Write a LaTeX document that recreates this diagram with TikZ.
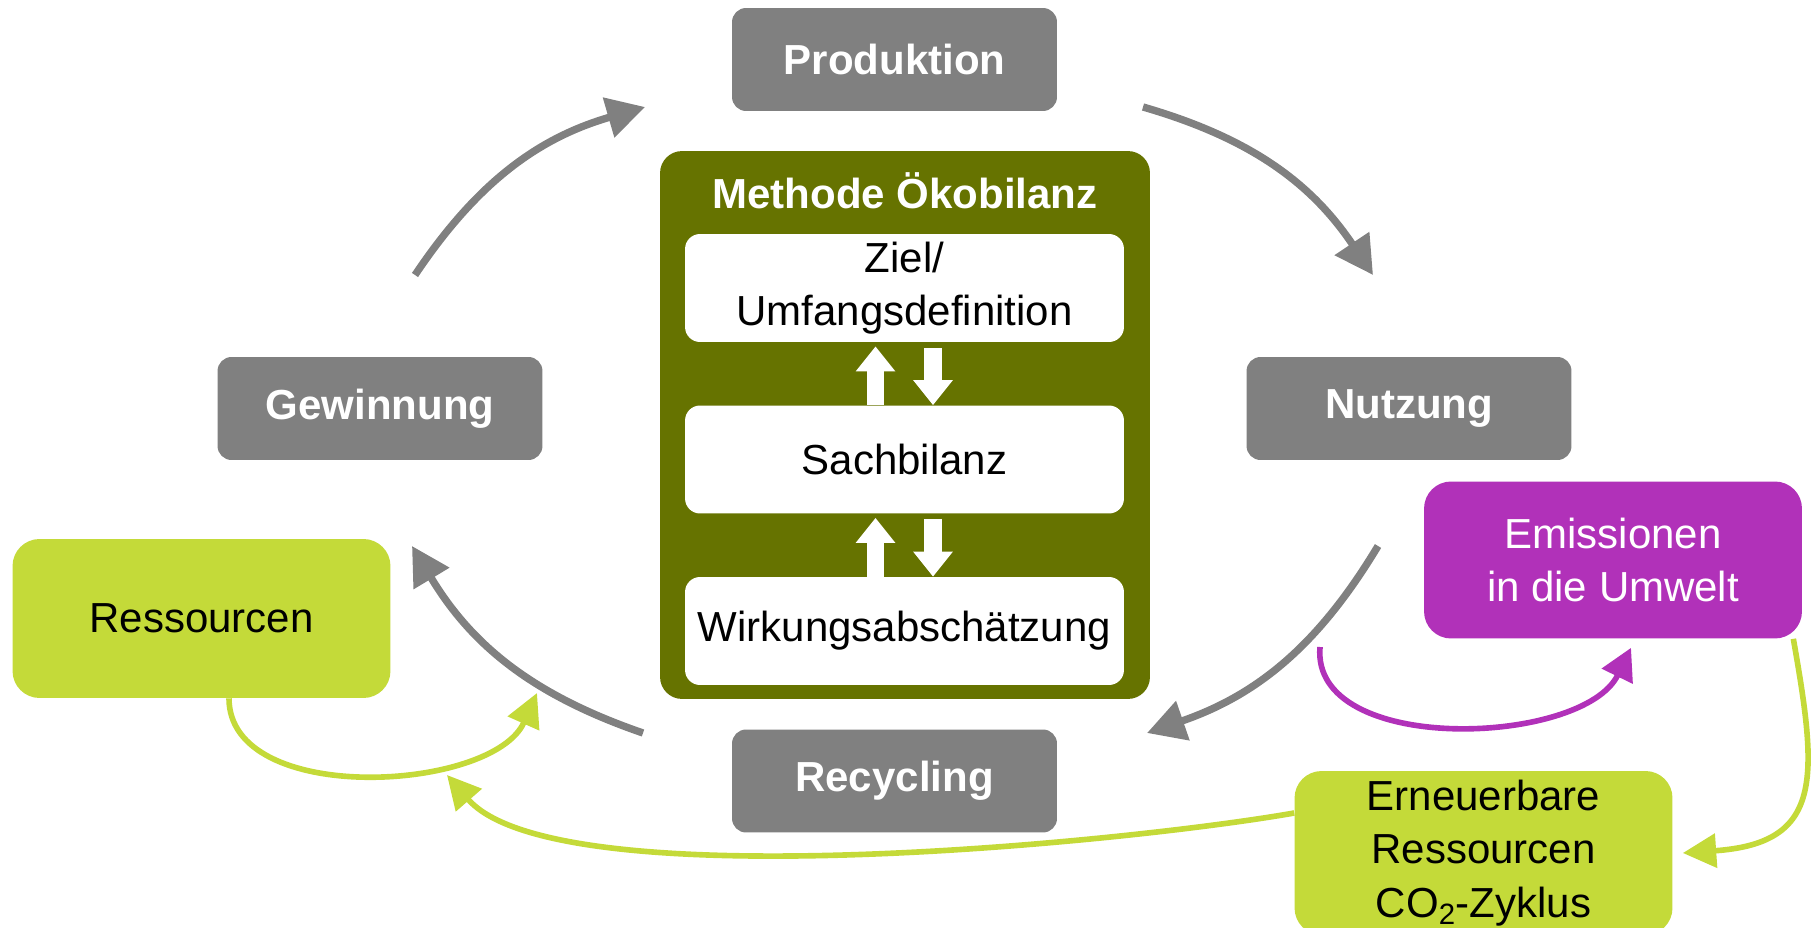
\documentclass[tikz,border=0pt]{standalone}
\usepackage{xcolor}
\usepackage{fontspec}
\setmainfont{Liberation Sans}
\usetikzlibrary{arrows.meta}

\definecolor{phasegray}{HTML}{808080}
\definecolor{methodgreen}{HTML}{667300}
\definecolor{resgreen}{HTML}{C4DA39}
\definecolor{emispurple}{HTML}{B131B9}

\newcommand{\bigfont}{\fontsize{23.9}{30.5}\selectfont}

\tikzset{
  phase/.style={fill=phasegray, rounded corners=0.28cm, minimum width=6.5cm, minimum height=2.06cm, text=white, font=\bigfont\bfseries},
  methodbox/.style={fill=methodgreen, rounded corners=0.44cm, minimum width=9.8cm, minimum height=10.96cm},
  stepbox/.style={fill=white, rounded corners=0.3cm, minimum width=8.78cm, minimum height=2.16cm, align=center, font=\bigfont},
  resbox/.style={fill=resgreen, rounded corners=0.54cm, minimum width=7.56cm, minimum height=3.18cm, align=center, font=\bigfont},
  emisbox/.style={fill=emispurple, rounded corners=0.54cm, minimum width=7.56cm, minimum height=3.14cm, align=center, text=white, font=\bigfont},
  loopflow/.style={draw=phasegray, line width=4.2pt, -{Triangle[length=21.6pt,width=22.8pt]}},
  greenflow/.style={draw=resgreen, line width=3.2pt, -{Triangle[length=19pt,width=19pt]}},
  purpleflow/.style={draw=emispurple, line width=3.2pt, -{Triangle[length=18pt,width=19pt]}},
  exchange/.style={draw=white, line width=10.2pt, -{Triangle[length=14.2pt,width=21.6pt]}}
}

\begin{document}
\begin{tikzpicture}[x=0.02cm, y=-0.02cm]
\useasboundingbox (0,0) rectangle (1817,928);

\node[phase] (prod) at (894.5,59.5) {Produktion};
\node[phase] (gew) at (380,408.5) {Gewinnung};
\node[phase] (nutz) at (1409,408.5) {Nutzung};
\node[phase] (rec) at (894.5,781) {Recycling};

\node[methodbox] (method) at (905,425) {};
\node[text=white, font=\bigfont\bfseries] (title) at (905,191) {Methode Ökobilanz};
\node[stepbox] (ziel) at (904.5,288) {Ziel/\\Umfangsdefinition};
\node[stepbox] (sach) at (904.5,459.5) {Sachbilanz};
\node[stepbox] (wirk) at (904.5,631) {Wirkungsabschätzung};

\draw[exchange, shorten >=2.3pt] ([xshift=-0.58cm]sach.north) -- ([xshift=-0.58cm]ziel.south);
\draw[exchange, shorten <=3.4pt] ([xshift=0.57cm]ziel.south) -- ([xshift=0.57cm]sach.north);
\draw[exchange, shorten >=2.3pt] ([xshift=-0.58cm]wirk.north) -- ([xshift=-0.58cm]sach.south);
\draw[exchange, shorten <=2.8pt] ([xshift=0.57cm]sach.south) -- ([xshift=0.57cm]wirk.north);

\node[resbox] (ress) at (201.5,618.5) {Ressourcen};
\node[emisbox] (emis) at (1613,560) {Emissionen\\in die Umwelt};
\node[resbox, minimum height=3.28cm] (ern) at (1483.5,853) {Erneuerbare\\Ressourcen\\CO\textsubscript{2}-Zyklus};

\coordinate (g1s) at (415,275);
\coordinate (g1e) at (645,107);
\coordinate (g2s) at (1143,107);
\coordinate (g2e) at (1373,275);
\coordinate (g3s) at (1378,546);
\coordinate (g3e) at (1147,733);
\coordinate (g4s) at (643,733);
\coordinate (g4e) at (412,546);
\draw[loopflow] (g1s) to[bend left=20] (g1e);
\draw[loopflow] (g2s) to[bend left=20] (g2e);
\draw[loopflow] (g3s) to[bend left=20] (g3e);
\draw[loopflow] (g4s) to[bend left=20] (g4e);

\coordinate (resin) at (537,693);
\coordinate (renin) at (447,775);
\coordinate (emout) at (1320,647);
\draw[greenflow] ([xshift=0.55cm]ress.south) to[out=-90, in=-114, looseness=0.9] (resin);
\draw[greenflow] (ern.west |- 0,813) to[out=190, in=-49, looseness=0.5] (renin);
\draw[greenflow] ([xshift=-0.18cm]emis.south east) to[out=-80, in=4, looseness=1.5] ([xshift=0.2cm]ern.east);
\draw[purpleflow] (emout) to[out=-95, in=-116, looseness=0.9] ([xshift=0.36cm, yshift=-0.18cm]emis.south);
\end{tikzpicture}
\end{document}
